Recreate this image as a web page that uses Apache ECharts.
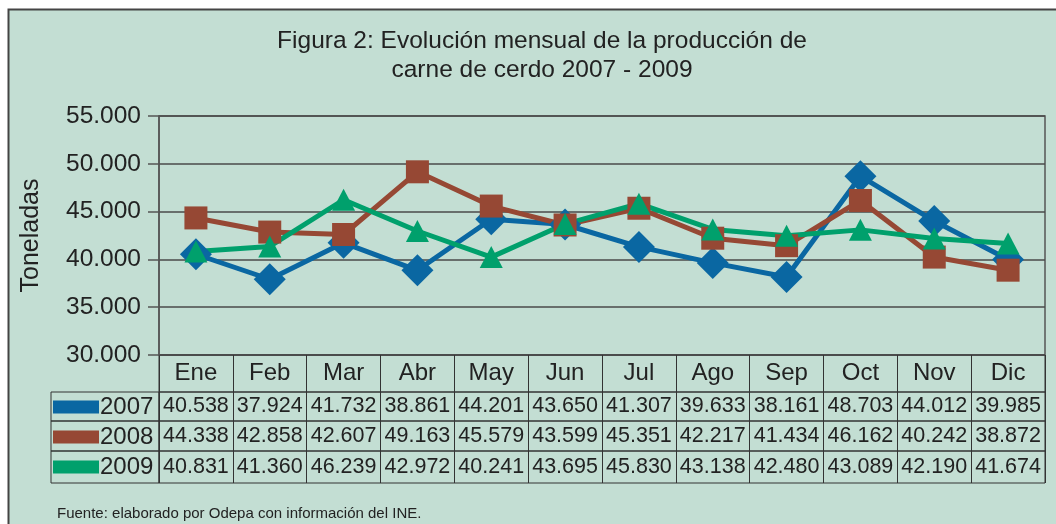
<!DOCTYPE html>
<html>
<head>
<meta charset="utf-8">
<script src="https://cdn.jsdelivr.net/npm/echarts@6/dist/echarts.min.js"></script>
<style>
  html, body { margin: 0; padding: 0; background: #fff; }
  #chart { width: 1056px; height: 524px; }
</style>
</head>
<body>
<div id="chart"></div>
<script>
// datos de la figura
const months = ["Ene", "Feb", "Mar", "Abr", "May", "Jun", "Jul", "Ago", "Sep", "Oct", "Nov", "Dic"];
const years = ["2007", "2008", "2009"];
const prod2007 = [40538, 37924, 41732, 38861, 44201, 43650, 41307, 39633, 38161, 48703, 44012, 39985];
const prod2008 = [44338, 42858, 42607, 49163, 45579, 43599, 45351, 42217, 41434, 46162, 40242, 38872];
const prod2009 = [40831, 41360, 46239, 42972, 40241, 43695, 45830, 43138, 42480, 43089, 42190, 41674];
const yTicks = [30000, 35000, 40000, 45000, 50000, 55000];

const colors = ["#0a67a2", "#964834", "#00a06c"];
const font = "Liberation Sans, Arial, sans-serif";
const fmt = (v) => (v / 1000).toFixed(3);

const chart = echarts.init(document.getElementById("chart"));

// filas de la tabla: encabezado + una por año
const tableLeft = 159;
const tableWidth = 886;
const rows = [
  { top: 355, height: 37, labels: months, size: 24 },
  { top: 392, height: 29, labels: prod2007.map(fmt), size: 21.5 },
  { top: 421, height: 30, labels: prod2008.map(fmt), size: 21.5 },
  { top: 451, height: 32, labels: prod2009.map(fmt), size: 21.5 },
];

const grids = [
  { left: 159, top: 116, width: tableWidth, height: 239, show: true, borderColor: "#555", borderWidth: 1.5 },
];
const xAxes = [
  {
    type: "category",
    data: months,
    boundaryGap: true,
    axisLine: { show: false },
    axisTick: { show: false },
    axisLabel: { show: false },
  },
];
const yAxes = [
  {
    type: "value",
    min: yTicks[0],
    max: yTicks[yTicks.length - 1],
    interval: 5000,
    name: "Toneladas",
    nameLocation: "middle",
    nameRotate: 90,
    nameGap: 115,
    nameTextStyle: { fontSize: 25, color: "#222", fontFamily: font },
    axisLine: { show: true, lineStyle: { color: "#555", width: 1.5 } },
    axisTick: { show: true, length: 11, lineStyle: { color: "#555", width: 1.5 } },
    axisLabel: {
      fontSize: 24.5,
      color: "#222",
      fontFamily: font,
      margin: 18,
      formatter: (v) => fmt(v),
    },
    splitLine: { lineStyle: { color: "#4a4a4a", width: 1.5 } },
  },
];

const cellGrid = (left, width, r) => {
  grids.push({ left, top: r.top, width, height: r.height, show: true, borderColor: "#333", borderWidth: 1 });
  return grids.length - 1;
};

rows.forEach((r, i) => {
  const gi = cellGrid(tableLeft, tableWidth, r);
  xAxes.push({
    gridIndex: gi,
    type: "category",
    data: r.labels,
    boundaryGap: true,
    axisLine: { show: false },
    axisTick: { show: false },
    axisLabel: {
      inside: true,
      interval: 0,
      margin: r.height / 2,
      verticalAlign: "middle",
      fontSize: r.size,
      color: "#222",
      fontFamily: font,
    },
    splitLine: { show: true, interval: 0, lineStyle: { color: "#333", width: 1 } },
  });
  yAxes.push({ gridIndex: gi, type: "value", show: false });
  // celda de leyenda a la izquierda
  if (i > 0) {
    const li = cellGrid(51, tableLeft - 51, r);
    xAxes.push({ gridIndex: li, type: "category", data: [""], show: false });
    yAxes.push({ gridIndex: li, type: "value", show: false });
  }
});

const symbols = ["diamond", "rect", "triangle"];
const symbolSizes = [32, 23, [23, 22]];
const seriesData = [prod2007, prod2008, prod2009];

const option = {
  animation: false,
  backgroundColor: "#fff",
  graphic: [
    {
      type: "rect",
      shape: { x: 8.5, y: 9.5, width: 1080, height: 540 },
      style: { fill: "#c3ded3", stroke: "#444", lineWidth: 2 },
      z: -10,
    },
  ],
  title: [
    {
      text: "Figura 2: Evolución mensual de la producción de\ncarne de cerdo 2007 - 2009",
      left: 537,
      top: 22,
      textAlign: "center",
      textStyle: {
        fontSize: 24.5,
        fontWeight: "normal",
        color: "#222",
        fontFamily: font,
        lineHeight: 29,
        align: "center",
      },
    },
    {
      text: "Fuente: elaborado por Odepa con información del INE.",
      left: 52,
      top: 501,
      textStyle: { fontSize: 15, fontWeight: "normal", color: "#222", fontFamily: font },
    },
  ],
  legend: {
    data: years,
    orient: "vertical",
    left: 53,
    top: 395,
    padding: 0,
    itemGap: 6,
    itemWidth: 46,
    itemHeight: 13,
    icon: "rect",
    selectedMode: false,
    textStyle: { fontSize: 24, color: "#222", fontFamily: font, padding: [0, 0, 0, -4] },
  },
  grid: grids,
  xAxis: xAxes,
  yAxis: yAxes,
  series: years.map((y, i) => ({
    name: y,
    type: "line",
    data: seriesData[i],
    symbol: symbols[i],
    symbolSize: symbolSizes[i],
    itemStyle: { color: colors[i] },
    lineStyle: { color: colors[i], width: 5 },
  })),
};

chart.setOption(option);
</script>
</body>
</html>
